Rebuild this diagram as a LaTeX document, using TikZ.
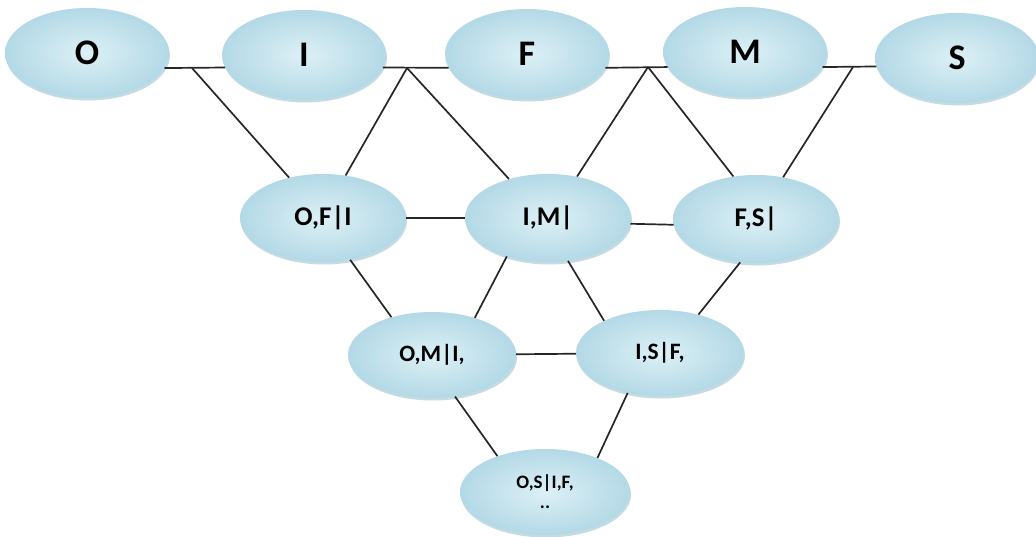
\documentclass[tikz,border=0pt]{standalone}
\usepackage{fontspec}
\setmainfont{Carlito}
\usetikzlibrary{shapes.geometric,shadows,backgrounds}

\definecolor{lightblue}{HTML}{DDF0F6}
\definecolor{rimblue}{HTML}{B3D9E6}
\definecolor{shadeblue}{HTML}{7FAFC0}

\begin{document}
\begin{tikzpicture}[
        x=1pt, y=-1pt,
        lattice/.style={ellipse, draw=none, inner sep=0pt, font=\bfseries,
            inner color=lightblue, outer color=rimblue,
            drop shadow={shadow xshift=1pt, shadow yshift=-2.5pt, fill=shadeblue, opacity=0.45}},
        top/.style={lattice, minimum width=164pt, minimum height=90pt, font=\bfseries\fontsize{36}{38}\selectfont},
        mid/.style={lattice, minimum width=166pt, minimum height=88pt, font=\bfseries\fontsize{27}{29}\selectfont},
        low/.style={lattice, minimum width=168pt, minimum height=86pt, font=\bfseries\fontsize{23.5}{25}\selectfont},
        bot/.style={lattice, minimum width=170pt, minimum height=86pt, align=center, font=\bfseries\fontsize{19}{21}\selectfont},
        link/.style={draw, black!85, line width=1.7pt},
    ]
    \useasboundingbox (0,0) rectangle (1036,537);

    % top row
    \node[top](O) at (87,53){O};
    \node[top](I) at (304,55){I};
    \node[top](F) at (527,54){F};
    \node[top](M) at (745,52){M};
    \node[top](S) at (957,58){S};

    % middle rows
    \node[mid](OFI) at (323,218){O,F|I};
    \node[mid](IM) at (548,218){I,M|};
    \node[mid](FS) at (756,219){F,S|};
    \node[low](OMI) at (432,355){O,M|I,};
    \node[low](ISF) at (660,353){I,S|F,};
    \node[bot](OSIF) at (545,492){O,S|I,F,\\[-1pt]..};

    \coordinate (j1) at (192,68);
    \coordinate (j2) at (407,68);
    \coordinate (j3) at (648,67);
    \coordinate (j4) at (853,67);

    \path[link] (O.-11) -- (I.189);
    \path[link] (I.-9) -- (F.190);
    \path[link] (F.-10) -- (M.191);
    \path[link] (M.-11) -- (S.186);

    \path[link] (j1) -- (OFI.130);
    \path[link] (j2) -- (OFI.62);
    \path[link] (j2) -- (IM.135);
    \path[link] (j3) -- (IM.55);
    \path[link] (j3) -- (FS.118);
    \path[link] (j4) -- (FS.57);

    \path[link] (OFI) -- (IM);
    \path[link] (IM.-4) -- (FS.184);
    \path[link] (OMI) -- (ISF);

    \path[link] (OFI.-57) -- (OMI.137);
    \path[link] (IM.-137) -- (OMI.41);
    \path[link] (IM.-65) -- (ISF.150);
    \path[link] (FS.-110) -- (ISF.45);
    \path[link] (OMI.-61) -- (OSIF.143);
    \path[link] (ISF.-129) -- (OSIF.33);

    \end{tikzpicture}
\end{document}
